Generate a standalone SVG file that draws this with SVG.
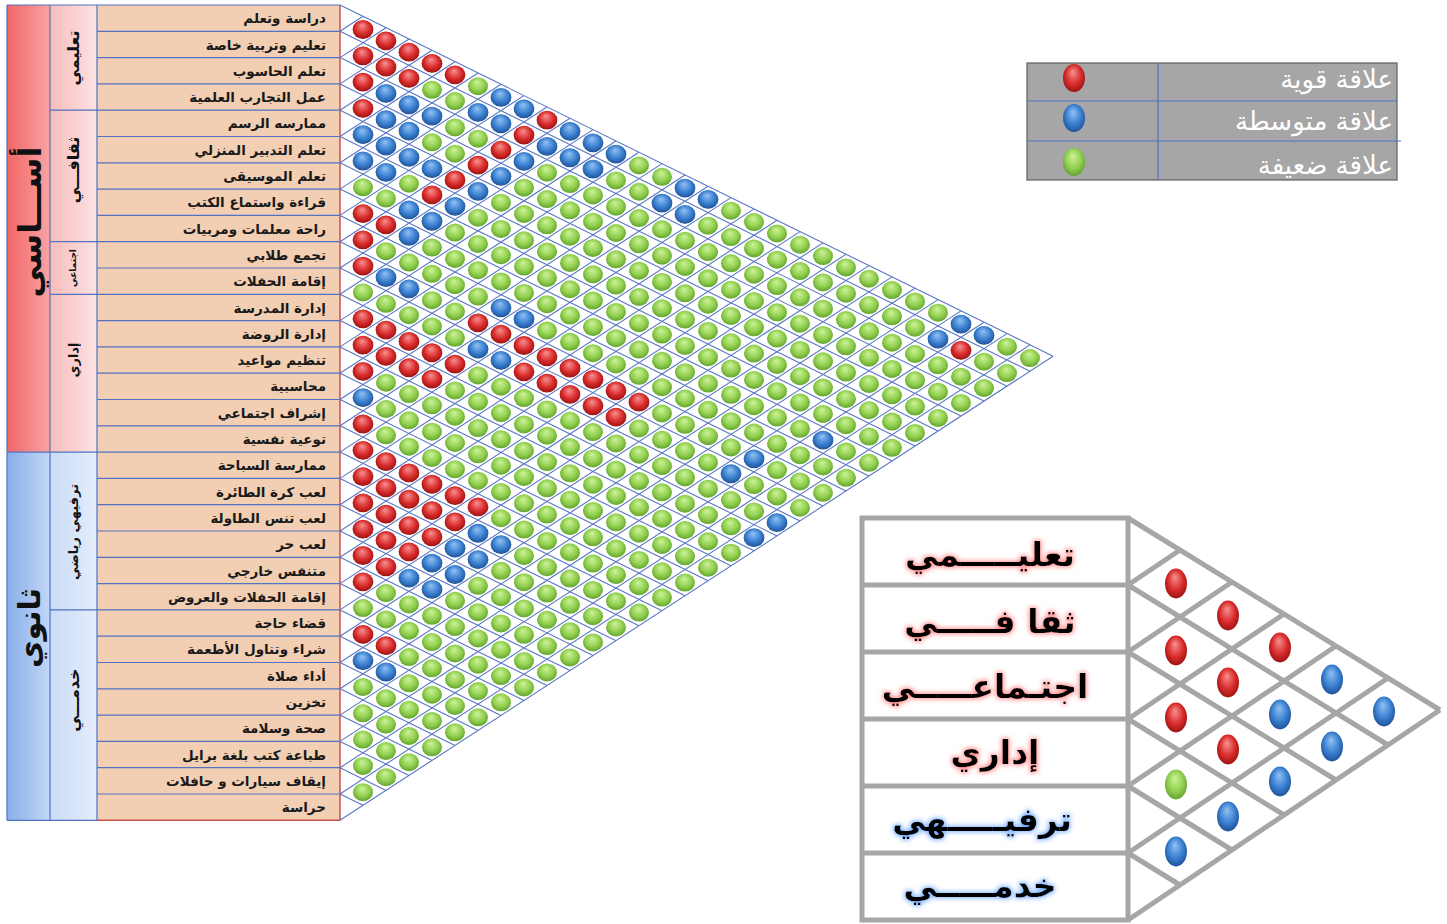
<svg xmlns="http://www.w3.org/2000/svg" xmlns:xlink="http://www.w3.org/1999/xlink" width="1447" height="924" viewBox="0 0 1447 924">
<style>
.lbl{font-family:'DejaVu Sans','Noto Sans',sans-serif;font-weight:bold;font-size:13.5px;fill:#1a1a1a;text-anchor:end}
.cat{font-family:'DejaVu Sans','Noto Sans',sans-serif;font-weight:bold;fill:#111;text-anchor:middle}
.big{font-family:'DejaVu Sans','Noto Sans',sans-serif;font-weight:bold;font-size:33px;fill:#000;text-anchor:middle}
.leg{font-family:'DejaVu Sans','Noto Sans',sans-serif;font-size:26px;fill:#fff;text-anchor:end}
.sep{stroke:#5272c2;stroke-width:1.2;fill:none}
.grid{stroke:#5a77c6;stroke-width:1.1;fill:none}
.sgrid{stroke:#a6a6a6;stroke-width:5;fill:none}
</style>
<defs>
<linearGradient id="redCol" x1="0" y1="0" x2="1" y2="0"><stop offset="0" stop-color="#f06666"/><stop offset="1" stop-color="#f9a3a3"/></linearGradient>
<linearGradient id="pinkCol" x1="0" y1="0" x2="1" y2="0"><stop offset="0" stop-color="#f8bcbc"/><stop offset="1" stop-color="#fde3e3"/></linearGradient>
<linearGradient id="blueCol" x1="0" y1="0" x2="1" y2="0"><stop offset="0" stop-color="#88aeea"/><stop offset="1" stop-color="#c3d7f6"/></linearGradient>
<linearGradient id="lblueCol" x1="0" y1="0" x2="1" y2="0"><stop offset="0" stop-color="#c9dcf7"/><stop offset="1" stop-color="#e4edfb"/></linearGradient>
<radialGradient id="gG" cx="50%" cy="45%" r="58%" fx="45%" fy="28%"><stop offset="0" stop-color="#cdf39a"/><stop offset="0.6" stop-color="#92d050"/><stop offset="1" stop-color="#5f9f2b"/></radialGradient>
<radialGradient id="gR" cx="50%" cy="45%" r="58%" fx="45%" fy="28%"><stop offset="0" stop-color="#f79292"/><stop offset="0.6" stop-color="#d92b2b"/><stop offset="1" stop-color="#961111"/></radialGradient>
<radialGradient id="gB" cx="50%" cy="45%" r="58%" fx="45%" fy="28%"><stop offset="0" stop-color="#92c2f3"/><stop offset="0.6" stop-color="#3a7fd0"/><stop offset="1" stop-color="#1d4e93"/></radialGradient>
<ellipse id="dG" rx="10" ry="9" fill="url(#gG)"/>
<ellipse id="dR" rx="10.4" ry="9.4" fill="url(#gR)"/>
<ellipse id="dB" rx="10.4" ry="9.4" fill="url(#gB)"/>
<ellipse id="sR" rx="11" ry="15" fill="url(#gR)"/>
<ellipse id="sB" rx="11" ry="15" fill="url(#gB)"/>
<ellipse id="sG" rx="11" ry="15" fill="url(#gG)"/>
<g id="col">
<use href="#dG" y="0"/><use href="#dG" y="26.3"/><use href="#dG" y="52.6"/><use href="#dG" y="78.9"/><use href="#dG" y="105.2"/><use href="#dG" y="131.5"/><use href="#dG" y="157.8"/><use href="#dG" y="184.1"/><use href="#dG" y="210.4"/><use href="#dG" y="236.7"/><use href="#dG" y="263"/><use href="#dG" y="289.3"/><use href="#dG" y="315.6"/><use href="#dG" y="341.9"/><use href="#dG" y="368.2"/><use href="#dG" y="394.5"/><use href="#dG" y="420.8"/><use href="#dG" y="447.1"/><use href="#dG" y="473.4"/><use href="#dG" y="499.7"/><use href="#dG" y="526"/><use href="#dG" y="552.3"/><use href="#dG" y="578.6"/><use href="#dG" y="604.9"/><use href="#dG" y="631.2"/><use href="#dG" y="657.5"/><use href="#dG" y="683.8"/><use href="#dG" y="710.1"/><use href="#dG" y="736.4"/><use href="#dG" y="762.7"/>
</g>
<clipPath id="tri"><polygon points="351,10.4 1053,356.2 351,813.1"/></clipPath>
<filter id="glowR" x="-15%" y="-40%" width="130%" height="180%">
<feMorphology in="SourceAlpha" operator="dilate" radius="1" result="d"/>
<feGaussianBlur in="d" stdDeviation="2.5" result="b"/>
<feFlood flood-color="#ff8c8c"/>
<feComposite in2="b" operator="in" result="g"/>
<feMerge><feMergeNode in="g"/><feMergeNode in="SourceGraphic"/></feMerge>
</filter>
<filter id="glowB" x="-15%" y="-40%" width="130%" height="180%">
<feMorphology in="SourceAlpha" operator="dilate" radius="1" result="d"/>
<feGaussianBlur in="d" stdDeviation="2.5" result="b"/>
<feFlood flood-color="#7ab0ff"/>
<feComposite in2="b" operator="in" result="g"/>
<feMerge><feMergeNode in="g"/><feMergeNode in="SourceGraphic"/></feMerge>
</filter>
</defs>

<rect width="1447" height="924" fill="#ffffff"/>

<!-- left header columns -->
<g id="level-columns">
<rect x="7" y="5" width="43" height="447.1" fill="url(#redCol)"/>
<rect x="7" y="452.1" width="43" height="368.2" fill="url(#blueCol)"/>
<rect x="50" y="5" width="47" height="447.1" fill="url(#pinkCol)"/>
<rect x="50" y="452.1" width="47" height="368.2" fill="url(#lblueCol)"/>
<text class="cat" font-size="32" transform="translate(30,222) rotate(-90)" y="11">أســـاسي</text>
<text class="cat" font-size="30" transform="translate(30,628) rotate(-90)" y="10">ثانوي</text>
</g>
<g id="category-column">
<text class="cat" font-size="16" transform="translate(73,58) rotate(-90)" y="6">تعليمي</text>
<text class="cat" font-size="16" transform="translate(73,170) rotate(-90)" y="6">ثقافـــي</text>
<text class="cat" font-size="9" transform="translate(73,268) rotate(-90)" y="3">اجتماعي</text>
<text class="cat" font-size="13" transform="translate(73,360) rotate(-90)" y="5">إداري</text>
<text class="cat" font-size="13" transform="translate(73,532) rotate(-90)" y="5">ترفيهي رياضي</text>
<text class="cat" font-size="16" transform="translate(73,700) rotate(-90)" y="6">خدمـــي</text>
</g>

<!-- label column -->
<g id="labels">
<rect x="97" y="5" width="243" height="815.3" fill="#f2cfb3"/>
<path class="sep" d="M97 31.3H340M97 57.6H340M97 83.9H340M97 110.2H340M97 136.5H340M97 162.8H340M97 189.1H340M97 215.4H340M97 241.7H340M97 268H340M97 294.3H340M97 320.6H340M97 346.9H340M97 373.2H340M97 399.5H340M97 425.8H340M97 452.1H340M97 478.4H340M97 504.7H340M97 531H340M97 557.3H340M97 583.6H340M97 609.9H340M97 636.2H340M97 662.5H340M97 688.8H340M97 715.1H340M97 741.4H340M97 767.7H340M97 794H340"/>
<path class="sep" d="M50 110.2H97M50 241.7H97M50 294.3H97M7 452.1H97M50 609.9H97M50 5V820.3M97 5V820.3M7 5V820.3M7 5H340M7 820.3H97"/>
<path d="M340 5V820.3M97 820.3H340" stroke="#c9504d" stroke-width="1.5" fill="none"/>
<text class="lbl" x="326" y="23">دراسة وتعلم</text>
<text class="lbl" x="326" y="49.5">تعليم وتربية خاصة</text>
<text class="lbl" x="326" y="75.8">تعلم الحاسوب</text>
<text class="lbl" x="326" y="102">عمل التجارب العلمية</text>
<text class="lbl" x="326" y="128.4">ممارسه الرسم</text>
<text class="lbl" x="326" y="154.7">تعلم التدبير المنزلي</text>
<text class="lbl" x="326" y="181">تعلم الموسيقى</text>
<text class="lbl" x="326" y="207.3">قراءة  واستماع الكتب</text>
<text class="lbl" x="326" y="233.6">راحة  معلمات ومربيات</text>
<text class="lbl" x="326" y="259.9">تجمع طلابي</text>
<text class="lbl" x="326" y="286.2">إقامة الحفلات</text>
<text class="lbl" x="326" y="312.5">إدارة المدرسة</text>
<text class="lbl" x="326" y="338.8">إدارة الروضة</text>
<text class="lbl" x="326" y="365.1">تنظيم مواعيد</text>
<text class="lbl" x="326" y="391.4">محاسبية</text>
<text class="lbl" x="326" y="417.7">إشراف اجتماعي</text>
<text class="lbl" x="326" y="444">توعية نفسية</text>
<text class="lbl" x="326" y="470.3">ممارسة السباحة</text>
<text class="lbl" x="326" y="496.6">لعب كرة الطائرة</text>
<text class="lbl" x="326" y="522.9">لعب تنس الطاولة</text>
<text class="lbl" x="326" y="549.2">لعب حر</text>
<text class="lbl" x="326" y="575.5">متنفس خارجي</text>
<text class="lbl" x="326" y="601.8">إقامة الحفلات والعروض</text>
<text class="lbl" x="326" y="628.1">قضاء حاجة</text>
<text class="lbl" x="326" y="654.4">شراء وتناول الأطعمة</text>
<text class="lbl" x="326" y="680.7">أداء صلاة</text>
<text class="lbl" x="326" y="707">تخزين</text>
<text class="lbl" x="326" y="733.3">صحة وسلامة</text>
<text class="lbl" x="326" y="759.6">طباعة كتب بلغة برايل</text>
<text class="lbl" x="326" y="785.9">إيقاف سيارات و حافلات</text>
<text class="lbl" x="326" y="812.2">حراسة</text>
</g>

<!-- matrix grid -->
<g id="connectors">
<path class="grid" d="M340 5L1053 356.2M340 31.3L1030 371.2M340 57.6L1007 386.2M340 83.9L984 401.1M340 110.2L961 416.1M340 136.5L938 431.1M340 162.8L915 446M340 189.1L892 461M340 215.4L869 476M340 241.7L846 491M340 268L823 505.9M340 294.3L800 520.9M340 320.6L777 535.9M340 346.9L754 550.8M340 373.2L731 565.8M340 399.5L708 580.8M340 425.8L685 595.8M340 452.1L662 610.7M340 478.4L639 625.7M340 504.7L616 640.7M340 531L593 655.6M340 557.3L570 670.6M340 583.6L547 685.6M340 609.9L524 700.5M340 636.2L501 715.5M340 662.5L478 730.5M340 688.8L455 745.5M340 715.1L432 760.4M340 741.4L409 775.4M340 767.7L386 790.4M340 794L363 805.3"/>
<path class="grid" d="M340 31.3L363 16.3M340 57.6L386 27.7M340 83.9L409 39M340 110.2L432 50.3M340 136.5L455 61.7M340 162.8L478 73M340 189.1L501 84.3M340 215.4L524 95.6M340 241.7L547 107M340 268L570 118.3M340 294.3L593 129.6M340 320.6L616 141M340 346.9L639 152.3M340 373.2L662 163.6M340 399.5L685 175M340 425.8L708 186.3M340 452.1L731 197.6M340 478.4L754 208.9M340 504.7L777 220.3M340 531L800 231.6M340 557.3L823 242.9M340 583.6L846 254.3M340 609.9L869 265.6M340 636.2L892 276.9M340 662.5L915 288.3M340 688.8L938 299.6M340 715.1L961 310.9M340 741.4L984 322.2M340 767.7L1007 333.6M340 794L1030 344.9M340 820.3L1053 356.2"/>
</g>

<!-- relation dots -->
<g id="matrix-dots">
<g clip-path="url(#tri)">
<use href="#col" x="363" y="29.48"/><use href="#col" x="386" y="40.81"/><use href="#col" x="409" y="52.14"/><use href="#col" x="432" y="63.47"/><use href="#col" x="455" y="74.8"/><use href="#col" x="478" y="86.13"/><use href="#col" x="501" y="97.46"/><use href="#col" x="524" y="108.79"/><use href="#col" x="547" y="120.12"/><use href="#col" x="570" y="131.45"/><use href="#col" x="593" y="142.78"/><use href="#col" x="616" y="154.11"/><use href="#col" x="639" y="165.44"/><use href="#col" x="662" y="176.77"/><use href="#col" x="685" y="188.1"/><use href="#col" x="708" y="199.43"/><use href="#col" x="731" y="210.76"/><use href="#col" x="754" y="222.09"/><use href="#col" x="777" y="233.42"/><use href="#col" x="800" y="244.75"/><use href="#col" x="823" y="256.08"/><use href="#col" x="846" y="267.41"/><use href="#col" x="869" y="278.74"/><use href="#col" x="892" y="290.07"/><use href="#col" x="915" y="301.4"/><use href="#col" x="938" y="312.73"/><use href="#col" x="961" y="324.06"/><use href="#col" x="984" y="335.39"/><use href="#col" x="1007" y="346.72"/><use href="#col" x="1030" y="358.05"/>
</g>
<g transform="translate(363,29.48)"><use href="#dR" y="0"/><use href="#dR" y="26.3"/><use href="#dR" y="52.6"/><use href="#dR" y="78.9"/><use href="#dB" y="105.2"/><use href="#dB" y="131.5"/><use href="#dR" y="184.1"/><use href="#dR" y="210.4"/><use href="#dR" y="236.7"/><use href="#dR" y="289.3"/><use href="#dR" y="315.6"/><use href="#dR" y="341.9"/><use href="#dB" y="368.2"/><use href="#dR" y="394.5"/><use href="#dR" y="420.8"/><use href="#dR" y="447.1"/><use href="#dR" y="473.4"/><use href="#dR" y="499.7"/><use href="#dR" y="526"/><use href="#dR" y="552.3"/><use href="#dR" y="604.9"/><use href="#dB" y="631.2"/></g>
<g transform="translate(386,40.81)"><use href="#dR" y="0"/><use href="#dR" y="26.3"/><use href="#dB" y="52.6"/><use href="#dB" y="78.9"/><use href="#dB" y="105.2"/><use href="#dB" y="131.5"/><use href="#dR" y="184.1"/><use href="#dB" y="236.7"/><use href="#dR" y="289.3"/><use href="#dR" y="315.6"/><use href="#dR" y="420.8"/><use href="#dR" y="447.1"/><use href="#dR" y="473.4"/><use href="#dR" y="499.7"/><use href="#dR" y="526"/><use href="#dR" y="604.9"/><use href="#dB" y="631.2"/></g>
<g transform="translate(409,52.14)"><use href="#dR" y="0"/><use href="#dR" y="26.3"/><use href="#dB" y="52.6"/><use href="#dB" y="78.9"/><use href="#dB" y="105.2"/><use href="#dB" y="157.8"/><use href="#dB" y="184.1"/><use href="#dB" y="236.7"/><use href="#dR" y="289.3"/><use href="#dR" y="315.6"/><use href="#dR" y="420.8"/><use href="#dR" y="447.1"/><use href="#dR" y="473.4"/><use href="#dR" y="499.7"/><use href="#dB" y="526"/></g>
<g transform="translate(432,63.47)"><use href="#dR" y="0"/><use href="#dB" y="52.6"/><use href="#dB" y="105.2"/><use href="#dR" y="131.5"/><use href="#dB" y="157.8"/><use href="#dR" y="289.3"/><use href="#dR" y="315.6"/><use href="#dR" y="420.8"/><use href="#dR" y="447.1"/><use href="#dR" y="473.4"/><use href="#dB" y="499.7"/><use href="#dB" y="526"/></g>
<g transform="translate(455,74.8)"><use href="#dR" y="0"/><use href="#dR" y="105.2"/><use href="#dB" y="131.5"/><use href="#dR" y="289.3"/><use href="#dR" y="420.8"/><use href="#dR" y="447.1"/><use href="#dB" y="473.4"/><use href="#dB" y="499.7"/></g>
<g transform="translate(478,86.13)"><use href="#dB" y="26.3"/><use href="#dR" y="78.9"/><use href="#dB" y="105.2"/><use href="#dR" y="236.7"/><use href="#dB" y="263"/><use href="#dR" y="420.8"/><use href="#dB" y="447.1"/><use href="#dB" y="473.4"/></g>
<g transform="translate(501,97.46)"><use href="#dB" y="0"/><use href="#dB" y="26.3"/><use href="#dR" y="52.6"/><use href="#dB" y="78.9"/><use href="#dB" y="210.4"/><use href="#dR" y="236.7"/><use href="#dB" y="263"/><use href="#dB" y="447.1"/></g>
<g transform="translate(524,108.79)"><use href="#dB" y="0"/><use href="#dR" y="26.3"/><use href="#dB" y="52.6"/><use href="#dB" y="210.4"/><use href="#dR" y="236.7"/><use href="#dR" y="263"/></g>
<g transform="translate(547,120.12)"><use href="#dR" y="0"/><use href="#dB" y="26.3"/><use href="#dR" y="236.7"/><use href="#dR" y="263"/></g>
<g transform="translate(570,131.45)"><use href="#dB" y="0"/><use href="#dB" y="26.3"/><use href="#dR" y="236.7"/><use href="#dR" y="263"/></g>
<g transform="translate(593,142.78)"><use href="#dB" y="0"/><use href="#dB" y="26.3"/><use href="#dR" y="236.7"/><use href="#dR" y="263"/></g>
<g transform="translate(616,154.11)"><use href="#dB" y="0"/><use href="#dR" y="236.7"/><use href="#dR" y="263"/></g>
<g transform="translate(639,165.44)"><use href="#dR" y="236.7"/></g>
<g transform="translate(662,176.77)"><use href="#dB" y="26.3"/></g>
<g transform="translate(685,188.1)"><use href="#dB" y="0"/><use href="#dB" y="26.3"/></g>
<g transform="translate(708,199.43)"><use href="#dB" y="0"/></g>
<g transform="translate(731,210.76)"><use href="#dB" y="263"/></g>
<g transform="translate(754,222.09)"><use href="#dB" y="236.7"/><use href="#dB" y="315.6"/></g>
<g transform="translate(777,233.42)"><use href="#dB" y="289.3"/></g>
<g transform="translate(823,256.08)"><use href="#dB" y="184.1"/></g>
<g transform="translate(938,312.73)"><use href="#dB" y="26.3"/></g>
<g transform="translate(961,324.06)"><use href="#dB" y="0"/><use href="#dR" y="26.3"/></g>
<g transform="translate(984,335.39)"><use href="#dB" y="0"/></g>
</g>

<!-- legend -->
<g id="legend">
<rect x="1027" y="63" width="370" height="117" fill="#a6a6a6" stroke="#5f5f5f" stroke-width="1.2"/>
<path d="M1158 63V180M1027 101H1397M1027 141H1401" stroke="#4a72c4" stroke-width="1.2" fill="none"/>
<ellipse cx="1074" cy="78" rx="11" ry="14" fill="url(#gR)"/>
<ellipse cx="1074" cy="118" rx="11" ry="14" fill="url(#gB)"/>
<ellipse cx="1074" cy="162" rx="11" ry="14" fill="url(#gG)"/>
<text class="leg" x="1393" y="88">علاقة قوية</text>
<text class="leg" x="1393" y="130">علاقة متوسطة</text>
<text class="leg" x="1393" y="174">علاقة ضعيفة</text>
</g>

<!-- summary matrix -->
<g id="summary">
<rect x="862" y="518" width="266" height="402" fill="#ffffff" stroke="#a6a6a6" stroke-width="5"/>
<path class="sgrid" d="M862 585H1128M862 652H1128M862 719H1128M862 786H1128M862 853H1128"/>
<path class="sgrid" d="M1128 518L1440 710M1128 585L1388 745M1128 652L1336 780M1128 719L1284 815M1128 786L1232 850M1128 853L1180 885M1128 585L1180 550M1128 652L1232 582M1128 719L1284 614M1128 786L1336 646M1128 853L1388 678M1128 920L1440 710"/>
<use href="#sR" x="1176" y="583.5"/><use href="#sR" x="1228" y="615.5"/><use href="#sR" x="1280" y="647.5"/><use href="#sB" x="1332" y="679.5"/><use href="#sB" x="1384" y="711.5"/>
<use href="#sR" x="1176" y="650.5"/><use href="#sR" x="1228" y="682.5"/><use href="#sB" x="1280" y="714.5"/><use href="#sB" x="1332" y="746.5"/>
<use href="#sR" x="1176" y="717.5"/><use href="#sR" x="1228" y="749.5"/><use href="#sB" x="1280" y="781.5"/>
<use href="#sG" x="1176" y="784.5"/><use href="#sB" x="1228" y="816.5"/>
<use href="#sB" x="1176" y="851.5"/>
<text class="big" x="990" y="566" filter="url(#glowR)">تعليـــــمي</text>
<text class="big" x="990" y="633" filter="url(#glowR)">ثقا فـــــي</text>
<text class="big" x="985" y="698" filter="url(#glowR)">اجتـماعـــــي</text>
<text class="big" x="995" y="764" filter="url(#glowR)">إداري</text>
<text class="big" x="982" y="831" filter="url(#glowB)">ترفيـــــهي</text>
<text class="big" x="980" y="897" filter="url(#glowB)">خدمـــــي</text>
</g>
</svg>
